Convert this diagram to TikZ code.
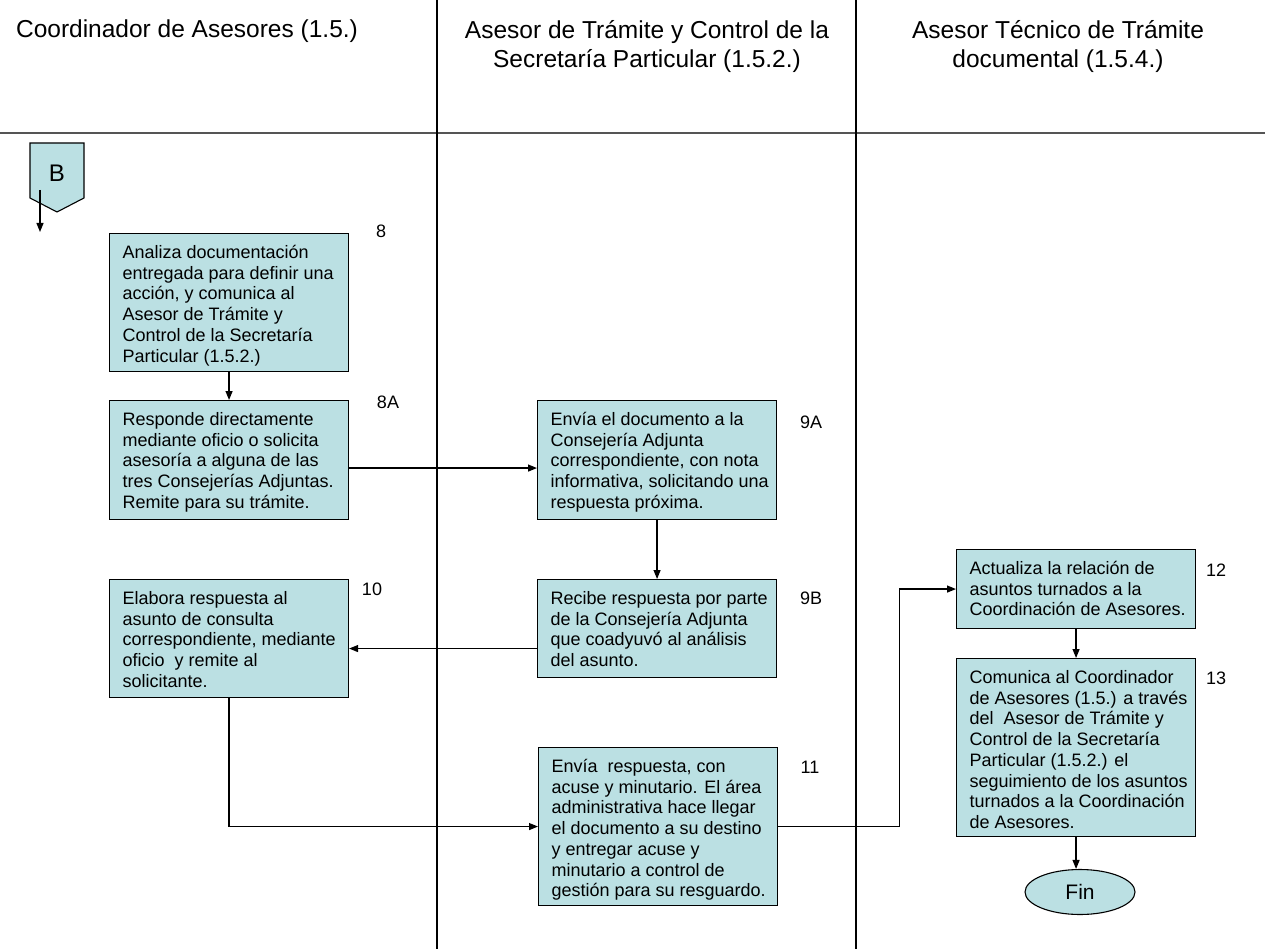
\documentclass[tikz,border=0pt]{standalone}
\usepackage{fontspec}
\setmainfont{Liberation Sans}
\usetikzlibrary{arrows.meta,shapes.geometric}

\definecolor{boxfill}{RGB}{187,224,227}
\definecolor{rulegray}{RGB}{85,85,85}

% body of a process box: fixed size, lines set from the top, never rewrapped
\newcommand{\boxtxt}[2]{\parbox[c][#1][t]{213pt}{\hfuzz=40pt\noindent
  \begin{tabular}[t]{@{}l@{}}\rule{0pt}{25pt}#2\end{tabular}}}

\tikzset{
  proc/.style={draw=black, line width=1.1pt, fill=boxfill, anchor=north west,
    inner xsep=13pt, inner ysep=0pt,
    font=\fontsize{18}{20.7}\selectfont},
  stepno/.style={font=\fontsize{18}{20.7}\selectfont, inner sep=0pt},
  lanehead/.style={font=\fontsize{24.5}{29}\selectfont, align=center, anchor=north, inner sep=0pt},
  flow/.style={line width=1.2pt, -{Triangle[length=9pt,width=7pt]}},
  lane/.style={line width=1.2pt, black},
}

\begin{document}
\begin{tikzpicture}[x=1pt, y=-1pt]
\useasboundingbox (0,0) rectangle (1265,949);

% swimlane frame
\draw[line width=2pt, rulegray] (0,133) -- (1265,133);
\draw[lane] (437,0) -- (437,949);
\draw[lane] (856,0) -- (856,949);

% lane headings
\node[lanehead] (h1) at (187,20) {Coordinador de Asesores (1.5.)};
\node[lanehead] (h2) at (647,20) {Asesor de Trámite y Control de la\\Secretaría Particular (1.5.2.)};
\node[lanehead] (h3) at (1058,20) {Asesor Técnico de Trámite\\documental (1.5.4.)};

% off-page connector B
\draw[line width=1.1pt, fill=boxfill] (30,143) -- (84,143) -- (84,198) -- (57,212) -- (30,198) -- cycle;
\node[font=\fontsize{24}{28}\selectfont, inner sep=0pt] (bsym) at (57,173) {B};
\coordinate (bout) at (40,190);
\coordinate (bend) at (40,232);
\draw[flow] (bout) -- (bend);

% process boxes
\node[proc] (b8) at (109,233) {\boxtxt{138pt}{Analiza documentación\\entregada para definir una\\acción, y comunica al\\Asesor de Trámite y\\Control de la Secretaría\\Particular (1.5.2.)}};
\node[proc] (b8a) at (109,400) {\boxtxt{119pt}{Responde directamente\\mediante oficio o solicita\\asesoría a alguna de las\\tres Consejerías Adjuntas.\\Remite para su trámite.}};
\node[proc] (b9a) at (537,400) {\boxtxt{119pt}{Envía el documento a la\\Consejería Adjunta\\correspondiente, con nota\\informativa, solicitando una\\respuesta próxima.}};
\node[proc] (b9b) at (537,579) {\boxtxt{98pt}{Recibe respuesta por parte\\de la Consejería Adjunta\\que coadyuvó al análisis\\del asunto.}};
\node[proc] (b10) at (109,579) {\boxtxt{118pt}{Elabora respuesta al\\asunto de consulta\\correspondiente, mediante\\oficio\ \ y remite al\\solicitante.}};
\node[proc] (b11) at (538,747) {\boxtxt{158pt}{Envía\ \ respuesta, con\\acuse y minutario. El área\\administrativa hace llegar\\el documento a su destino\\y entregar acuse y\\minutario a control de\\gestión para su resguardo.}};
\node[proc] (b12) at (956,549) {\boxtxt{79pt}{Actualiza la relación de\\asuntos turnados a la\\Coordinación de Asesores.}};
\node[proc] (b13) at (956,658) {\boxtxt{178pt}{Comunica al Coordinador\\de Asesores (1.5.) a través\\del\ \ Asesor de Trámite y\\Control de la Secretaría\\Particular (1.5.2.) el\\seguimiento de los asuntos\\turnados a la Coordinación\\de Asesores.}};

% terminator
\node[ellipse, draw=black, line width=1.1pt, fill=boxfill, minimum width=110pt, minimum height=45pt,
  inner sep=0pt, font=\fontsize{21}{24}\selectfont] (fin) at (1080,892) {Fin};

% step numbers
\node[stepno] (n8) at (381,231) {8};
\node[stepno] (n8a) at (388,402) {8A};
\node[stepno] (n9a) at (811,422) {9A};
\node[stepno] (n9b) at (811,598) {9B};
\node[stepno] (n10) at (372,589) {10};
\node[stepno] (n11) at (810,767) {11};
\node[stepno] (n12) at (1216,570) {12};
\node[stepno] (n13) at (1216,678) {13};

% connectors
\draw[flow] (b8.south) -- (b8a.north);
\draw[flow] ([yshift=-8pt]b8a.east) -- ([yshift=-8pt]b9a.west);
\draw[flow] (b9a.south) -- (b9b.north);
\coordinate (r9b) at ([yshift=-20pt]b9b.west);
\draw[flow] (r9b) -- (r9b -| b10.east);
\draw[flow] (b10.south) |- (b11.west);
\draw[flow] (b11.east) -- ++(121,0) |- (b12.west);
\draw[flow] (b12.south) -- (b13.north);
\draw[flow] (b13.south) -- (b13.south |- fin.north);
\end{tikzpicture}
\end{document}
